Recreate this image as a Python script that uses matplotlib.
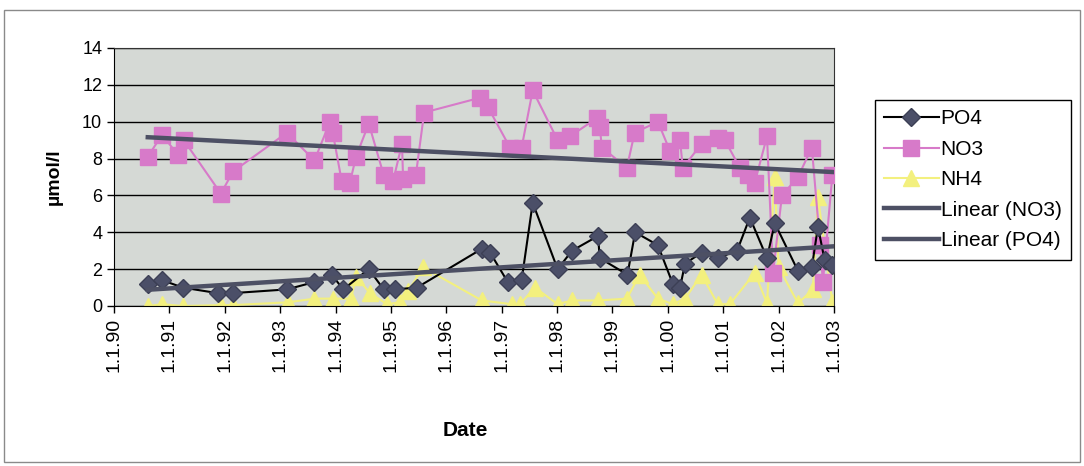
import numpy as np
import matplotlib
matplotlib.use('Agg')
import matplotlib.pyplot as plt
from matplotlib.patches import Rectangle

plt.rcParams['font.family'] = ['Liberation Sans', 'DejaVu Sans']

# values (decimal year, umol/l)
no3_t = [1990.61, 1990.87, 1991.15, 1991.26, 1991.93, 1992.15, 1993.12, 1993.62, 1993.90, 1993.95,
         1994.11, 1994.26, 1994.37, 1994.60, 1994.87, 1995.04, 1995.20, 1995.22, 1995.45, 1995.60,
         1996.61, 1996.75, 1997.15, 1997.36, 1997.56, 1998.01, 1998.23, 1998.72, 1998.77, 1998.81,
         1999.26, 1999.40, 1999.82, 2000.04, 2000.22, 2000.27, 2000.61, 2000.90, 2001.03, 2001.30,
         2001.44, 2001.57, 2001.79, 2001.90, 2002.06, 2002.35, 2002.60, 2002.75, 2002.80, 2002.97]
no3 = [8.1, 9.3, 8.2, 9.0, 6.1, 7.3, 9.4, 7.9, 10.0, 9.4,
       6.8, 6.7, 8.1, 9.9, 7.1, 6.8, 8.8, 6.9, 7.1, 10.5,
       11.3, 10.8, 8.6, 8.6, 11.7, 9.0, 9.2, 10.2, 9.7, 8.6,
       7.5, 9.4, 10.0, 8.4, 9.0, 7.5, 8.8, 9.1, 9.0, 7.5,
       7.1, 6.7, 9.2, 1.8, 6.0, 7.0, 8.6, 3.3, 1.3, 7.1]

po4_t = [1990.61, 1990.87, 1991.24, 1991.87, 1992.15, 1993.12, 1993.62, 1993.93, 1994.14, 1994.60,
         1994.87, 1995.07, 1995.47, 1996.64, 1996.79, 1997.11, 1997.36, 1997.56, 1998.01, 1998.27,
         1998.74, 1998.77, 1999.27, 1999.41, 1999.82, 2000.09, 2000.22, 2000.31, 2000.61, 2000.90,
         2001.25, 2001.48, 2001.79, 2001.93, 2002.35, 2002.60, 2002.71, 2002.83, 2002.97]
po4 = [1.2, 1.4, 1.0, 0.7, 0.7, 0.9, 1.3, 1.7, 0.9, 2.0,
       0.9, 0.9, 1.0, 3.1, 2.9, 1.3, 1.4, 5.6, 2.0, 3.0,
       3.8, 2.6, 1.7, 4.0, 3.3, 1.2, 1.0, 2.3, 2.9, 2.6,
       3.0, 4.8, 2.6, 4.5, 1.9, 2.1, 4.3, 2.5, 2.2]

nh4_t = [1990.61, 1990.87, 1991.24, 1991.94, 1992.15, 1993.14, 1993.62, 1993.96, 1994.28, 1994.37,
         1994.62, 1994.93, 1995.17, 1995.31, 1995.58, 1996.64, 1997.18, 1997.33, 1997.60, 1998.01,
         1998.27, 1998.74, 1999.26, 1999.49, 1999.82, 2000.09, 2000.31, 2000.61, 2000.90, 2001.12,
         2001.57, 2001.79, 2001.93, 2002.00, 2002.35, 2002.62, 2002.71, 2002.97]
nh4 = [0.0, 0.1, 0.0, 0.05, 0.05, 0.2, 0.4, 0.4, 0.4, 1.6,
       0.7, 0.1, 0.2, 0.8, 2.1, 0.3, 0.1, 0.1, 1.0, 0.1,
       0.3, 0.3, 0.4, 1.7, 0.4, 0.1, 0.4, 1.7, 0.1, 0.1,
       1.8, 0.15, 7.0, 2.1, 0.15, 0.9, 5.9, 0.2]

years = list(range(1990, 2004))
year_labels = ['1.1.%02d' % (y % 100) for y in years]

W, H = 1084, 466
fig = plt.figure(figsize=(W / 100, H / 100), dpi=100)
# rahmen um das ganze diagramm
fig.patches.append(Rectangle((4 / W, 1 - 462 / H), 1076 / W, 452 / H, transform=fig.transFigure,
                             fill=False, edgecolor='#8a8a8a', linewidth=1))

ax = fig.add_axes([114 / W, 1 - 306 / H, 720 / W, 258 / H])
ax.set_facecolor('#d5d9d5')

# messreihen
ax.plot(po4_t, po4, color='black', linewidth=1.5, marker='D', markersize=9,
        markerfacecolor='#4b4f68', markeredgecolor='#3c3f55', label='PO4', zorder=4)
ax.plot(no3_t, no3, color='#d77ac9', linewidth=1.5, marker='s', markersize=11,
        markerfacecolor='#d77ac9', markeredgecolor='#d77ac9', label='NO3', zorder=3)
ax.plot(nh4_t, nh4, color='#f3f07e', linewidth=1.5, marker='^', markersize=11,
        markerfacecolor='#f3f07e', markeredgecolor='#f3f07e', label='NH4', zorder=2)

# lineare trends
k, b = np.polyfit(no3_t, no3, 1)
tt = np.array([no3_t[0], no3_t[-1]])
ax.plot(tt, k * tt + b, color='#4d5064', linewidth=3.2, label='Linear (NO3)', zorder=5)
k, b = np.polyfit(po4_t, po4, 1)
tt = np.array([po4_t[0], po4_t[-1]])
ax.plot(tt, k * tt + b, color='#4d5064', linewidth=3.2, label='Linear (PO4)', zorder=5)

ax.set_xlim(1990, 2003)
ax.set_ylim(0, 14)
ax.set_yticks(range(0, 15, 2))
ax.set_xticks(years)
ax.set_xticklabels(year_labels, rotation=90, fontsize=14)
ax.tick_params(axis='y', labelsize=13, length=5, width=1)
ax.tick_params(axis='x', length=5, width=1)
ax.grid(axis='y', color='black', linewidth=1)
ax.set_axisbelow(True)
for s in ax.spines.values():
    s.set_color('#333333')
ax.spines['left'].set_color('black')
ax.spines['bottom'].set_color('black')

ax.set_ylabel('µmol/l', fontsize=14, fontweight='bold', labelpad=14)
fig.text(465 / W, 1 - 430 / H, 'Date', fontsize=15, fontweight='bold', ha='center', va='center')

leg = fig.legend(loc='upper left', bbox_to_anchor=(875 / W, 1 - 100 / H), fontsize=15,
                 frameon=True, fancybox=False, edgecolor='black', framealpha=1,
                 handlelength=2.6, labelspacing=0.55, borderpad=0.45, handletextpad=0.1,
                 borderaxespad=0)
leg.get_frame().set_linewidth(1)

fig.savefig('out.png', dpi=100)
